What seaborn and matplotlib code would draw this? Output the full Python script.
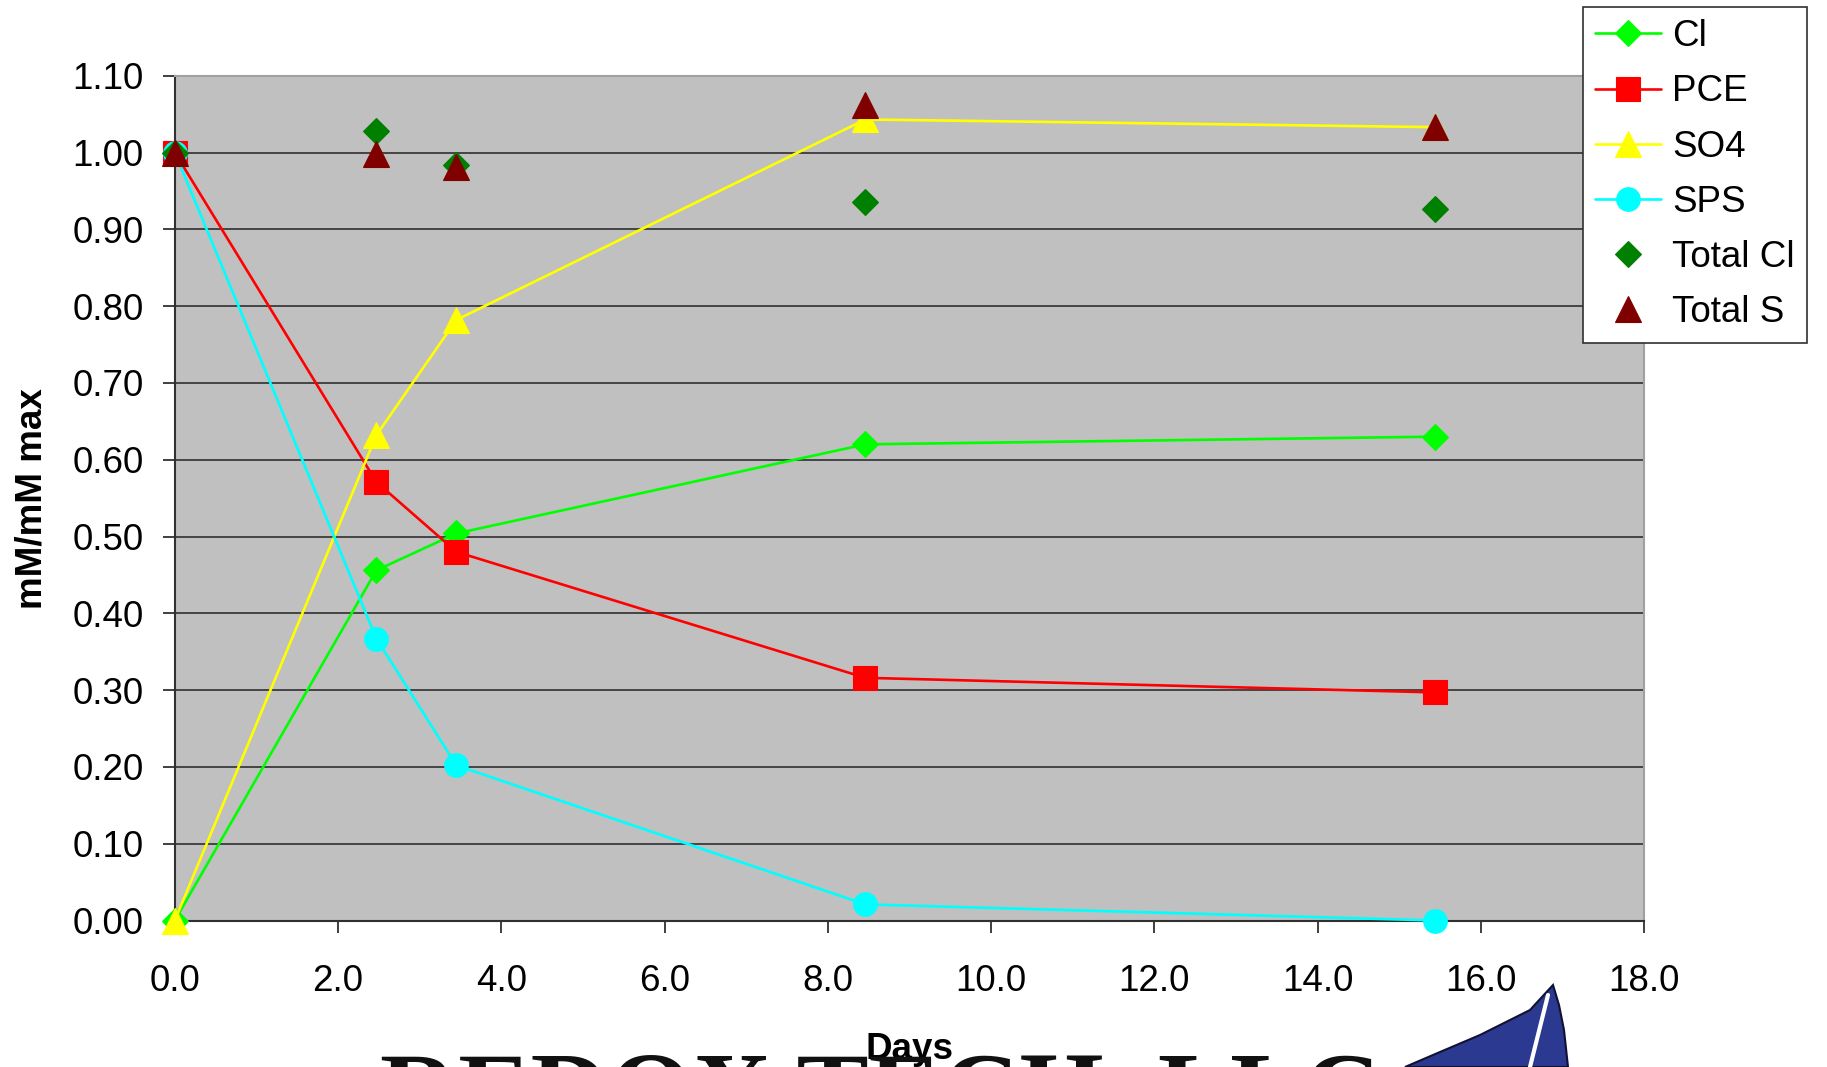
import matplotlib
matplotlib.use("Agg")
import matplotlib.pyplot as plt
from matplotlib.patches import Polygon
from matplotlib.lines import Line2D
import seaborn as sns
import numpy as np

# ---- data ----
days = [0.0, 2.47, 3.45, 8.46, 15.44]
cl = [0.0, 0.456, 0.504, 0.620, 0.630]
pce = [1.0, 0.571, 0.480, 0.316, 0.297]
so4 = [0.0, 0.632, 0.782, 1.043, 1.033]
sps = [1.0, 0.367, 0.202, 0.021, 0.0]
total_cl = [1.0, 1.028, 0.984, 0.935, 0.927]
total_s = [1.0, 0.998, 0.981, 1.062, 1.033]

x_ticks = [0, 2, 4, 6, 8, 10, 12, 14, 16, 18]
y_ticks = [0.0, 0.1, 0.2, 0.3, 0.4, 0.5, 0.6, 0.7, 0.8, 0.9, 1.0, 1.1]

sns.set_theme(style="white")
plt.rcParams['font.family'] = ['Liberation Sans', 'DejaVu Sans']
plt.rcParams['text.color'] = 'black'
plt.rcParams['axes.labelcolor'] = 'black'
plt.rcParams['xtick.color'] = 'black'
plt.rcParams['ytick.color'] = 'black'

W, H = 1827, 1067
fig = plt.figure(figsize=(W / 100, H / 100), dpi=100)
ax = fig.add_axes([174.8 / W, 1 - 920.5 / H, (1644 - 174.8) / W, (920.5 - 75.7) / H])
ax.set_facecolor('#C0C0C0')

lw = 1.9
series = [
    ("Cl", cl, 'D', '#00FF00', 13.5, '-'),
    ("PCE", pce, 's', '#FF0000', 17.0, '-'),
    ("SO4", so4, '^', '#FFFF00', 18.5, '-'),
    ("SPS", sps, 'o', '#00FFFF', 17.0, '-'),
    ("Total Cl", total_cl, 'D', '#008000', 13.5, ''),
    ("Total S", total_s, '^', '#800000', 18.5, ''),
]
for i, (name, vals, mk, col, ms, ls) in enumerate(series):
    sns.lineplot(x=days, y=vals, ax=ax, label=name, color=col, marker=mk,
                 markersize=ms, markeredgecolor=col, markerfacecolor=col,
                 markeredgewidth=0.8, linewidth=lw, linestyle=ls,
                 clip_on=False, zorder=3 + i)

ax.set_xlim(0, 18)
ax.set_ylim(0, 1.1)
ax.set_xticks(x_ticks)
ax.set_yticks(y_ticks)
ax.set_xticklabels([f"{v:.1f}" for v in x_ticks])
ax.set_yticklabels([f"{v:.2f}" for v in y_ticks])
ax.grid(axis='y', color='#3a3a3a', linewidth=1.3)
ax.grid(axis='x', visible=False)
ax.set_axisbelow(True)

for s in ['left', 'bottom']:
    ax.spines[s].set_color('#303030')
    ax.spines[s].set_linewidth(1.5)
for s in ['top', 'right']:
    ax.spines[s].set_color('#A0A0A0')
    ax.spines[s].set_linewidth(1.5)

ax.tick_params(axis='y', direction='out', length=8.6, width=1.3, color='#303030',
               pad=14, labelsize=26.5, left=True, labelcolor='black')
ax.tick_params(axis='x', direction='out', length=8.6, width=1.3, color='#303030',
               pad=22.5, labelsize=26.5, bottom=True, labelcolor='black')

ax.set_ylabel("mM/mM max", fontsize=26.5, fontweight='bold', color='black')
ax.yaxis.set_label_coords(-0.085, 0.5)
ax.set_xlabel("Days", fontsize=26.5, fontweight='bold', color='black')
ax.xaxis.set_label_coords(0.5, -0.132)

leg = ax.legend(loc='upper left', bbox_to_anchor=(1583 / W, 1 - 7 / H),
                bbox_transform=fig.transFigure, fontsize=26.5, frameon=True,
                fancybox=False, edgecolor='#303030', facecolor='white',
                framealpha=1, handlelength=1.8, handletextpad=0.3,
                labelspacing=0.55, borderpad=0.33, borderaxespad=0)
leg.get_frame().set_linewidth(1.2)
for t in leg.get_texts():
    t.set_color('black')

# partial logo at the bottom (cut off by the figure edge)
fig.text(380 / W, 1 - 1126 / H, "REDOX TECH, LLC", fontsize=78,
         family=['Liberation Serif', 'DejaVu Serif'], fontweight='bold',
         ha='left', va='baseline', color='#111111')
pts = np.array([[1553, 985], [1530, 1010], [1480, 1035], [1440, 1052], [1405, 1067],
                [1568, 1067], [1564, 1030], [1559, 1005]], dtype=float)
pts[:, 1] = H - pts[:, 1]
drop = Polygon(pts, closed=True, transform=None, facecolor='#2B3990',
               edgecolor='#111133', linewidth=1.5)
fig.patches.append(drop)
fig.lines.append(Line2D([1548, 1530], [H - 995, H - 1067],
                        transform=None, color='white', linewidth=3))

fig.savefig("out.png", dpi=100)
